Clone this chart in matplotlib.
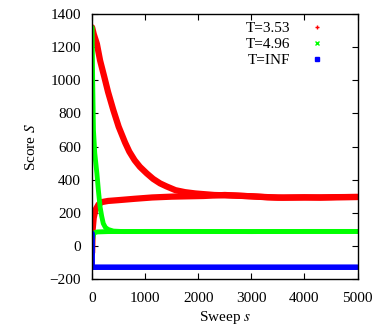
import matplotlib
matplotlib.use('Agg')
import matplotlib.pyplot as plt
from matplotlib.lines import Line2D

plt.rcParams['font.family'] = ['Liberation Serif', 'DejaVu Serif']
plt.rcParams['mathtext.fontset'] = 'stix'

# T=3.53, run starting from the ordered state (decays)
red_hi_s = [0, 30, 90, 150, 230, 300, 400, 500, 620, 700, 800, 900, 1030, 1150, 1280, 1400, 1570, 1750, 1950,
            2300, 2700, 3000, 3300, 3600, 4000, 4300, 4600, 5000]
red_hi_S = [1320, 1280, 1220, 1120, 1020, 930, 820, 720, 625, 570, 518, 478, 438, 405, 378, 360, 337, 325, 317,
            308, 304, 300, 294, 292, 294, 292, 295, 296]
# T=3.53, run starting from random state (rises)
red_lo_s = [0, 10, 30, 60, 120, 180, 300, 500, 800, 1130, 1500, 1800, 2100, 2500, 3000, 3500, 4000, 4500, 5000]
red_lo_S = [-40, 100, 170, 216, 250, 265, 272, 277, 285, 293, 298, 300, 302, 308, 300, 292, 293, 294, 296]

# T=4.96
green_hi_s = [0, 10, 25, 50, 90, 120, 150, 180, 210, 250, 300, 400, 600, 1000, 2000, 3000, 4000, 5000]
green_hi_S = [1320, 1000, 700, 560, 438, 330, 236, 180, 136, 112, 100, 90, 87, 88, 88, 87, 88, 88]
green_lo_s = [0, 10, 30, 60, 100, 300, 1000, 2000, 3000, 4000, 5000]
green_lo_S = [-50, 40, 75, 82, 85, 87, 88, 88, 87, 88, 88]

# T=INF
blue_s = [0, 1, 1000, 2000, 3000, 4000, 5000]
blue_S = [75, -128, -128, -128, -128, -128, -128]

labels = ['T=3.53', 'T=4.96', 'T=INF']
colors = ['#ff0000', '#00ff00', '#0000ff']

fig = plt.figure(figsize=(3.76, 3.28), dpi=100)
ax = fig.add_axes([0.245, 0.149, 0.706, 0.808])

ax.plot(red_hi_s, red_hi_S, color=colors[0], lw=4.5, solid_capstyle='round')
ax.plot(red_lo_s, red_lo_S, color=colors[0], lw=4.5, solid_capstyle='round')
ax.plot(green_hi_s, green_hi_S, color=colors[1], lw=3.5, solid_capstyle='round')
ax.plot(green_lo_s, green_lo_S, color=colors[1], lw=3.5, solid_capstyle='round')
ax.plot(blue_s, blue_S, color=colors[2], lw=4, solid_capstyle='round')

ax.set_xlim(0, 5000)
ax.set_ylim(-200, 1400)
ax.set_xticks([0, 1000, 2000, 3000, 4000, 5000])
ax.set_yticks(range(-200, 1401, 200))
ax.tick_params(direction='in', top=True, right=True, length=4, width=0.8,
               labelsize=11, pad=8)
ax.tick_params(axis='x', pad=9)
for sp in ax.spines.values():
    sp.set_linewidth(1.0)

ax.set_xlabel('Sweep $s$', fontsize=11, labelpad=3)
ax.set_ylabel('Score $S$', fontsize=11, labelpad=8)

handles = [Line2D([], [], ls='none', marker='+', color=colors[0], ms=3, mew=1),
           Line2D([], [], ls='none', marker='x', color=colors[1], ms=2.5, mew=1),
           Line2D([], [], ls='none', marker='s', color=colors[2], ms=2.5)]
ax.legend(handles, labels, loc='upper right', markerfirst=False, frameon=False,
          fontsize=11, handlelength=1.5, handletextpad=1.0, labelspacing=0.15,
          borderaxespad=0.0, bbox_to_anchor=(0.912, 0.996))

fig.savefig('out.png', dpi=100)
